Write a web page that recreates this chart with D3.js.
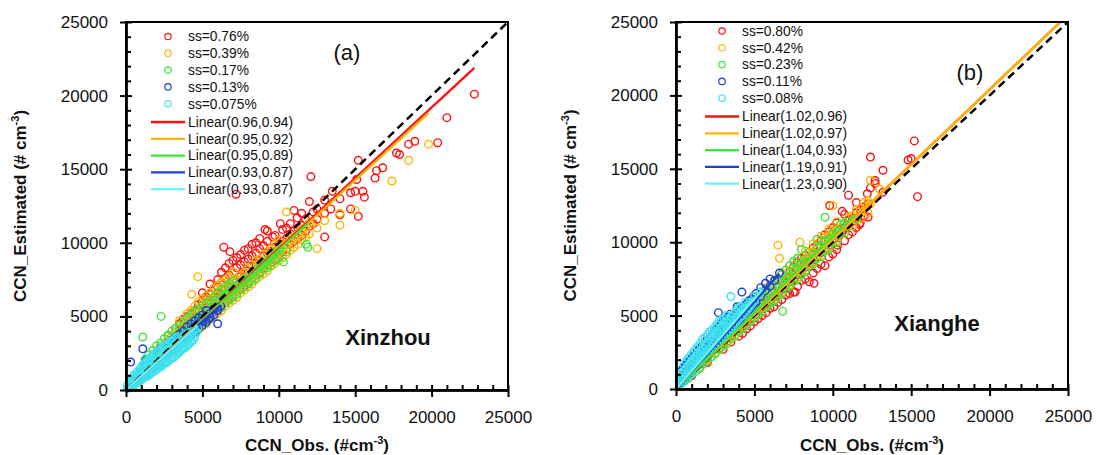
<!DOCTYPE html>
<html lang="en">
<head>
<meta charset="UTF-8">
<title>CCN estimated vs observed</title>
<script src="https://d3js.org/d3.v7.min.js"></script>
<style>
  body { margin: 0; background: #fff; }
  svg text { font-family: "Liberation Sans", Arial, sans-serif; fill: #111; }
</style>
</head>
<body>
<svg id="canvas"></svg>
<script>
let width = 1097
let height = 455

// series names / fits (slope, R2) / fit end points
let namesA = ["ss=0.76%", "ss=0.39%", "ss=0.17%", "ss=0.13%", "ss=0.075%"]
let namesB = ["ss=0.80%", "ss=0.42%", "ss=0.23%", "ss=0.11%", "ss=0.08%"]
let slopesA = [0.96, 0.95, 0.95, 0.93, 0.93]
let r2A = [0.94, 0.92, 0.89, 0.87, 0.87]
let slopesB = [1.02, 1.02, 1.04, 1.19, 1.23]
let r2B = [0.96, 0.97, 0.93, 0.91, 0.90]
let fitMaxA = [22800, 19800, 12000, 6200, 4700]
let fitMaxB = [24500, 24500, 11400, 6600, 5500]
let colors = ["#ff1010", "#ffb400", "#3ce63c", "#1e3ed4", "#3fe3ee"]
let lineColors = ["#ff1010", "#ffb400", "#3ce63c", "#1e3ed4", "#6af2ff"]
let majorTicks = [0, 5000, 10000, 15000, 20000, 25000]

// Xinzhou points [obs, est]
let redA = [[1000,900],[1000,1200],[1500,1300],[1500,1700],[2000,1800],[2000,2300],[2500,2300],[2500,2900],[3000,2700],[3000,3400],
  [3500,3200],[3500,3900],[3500,4500],[4000,3700],[4000,4300],[4000,5000],[4500,4100],[4500,4800],[4500,5400],
  [5000,4600],[5000,5300],[5000,6000],[5000,6600],[5500,5000],[5500,5900],[5500,6500],[5500,7200],
  [6000,5500],[6000,6300],[6000,7000],[6000,7500],[6500,6000],[6500,6800],[6500,7600],[6500,8300],[6400,9700],
  [7000,6400],[7000,7300],[7000,8000],[7000,8800],[6800,9400],[7500,6900],[7500,7700],[7500,8500],[7500,9200],
  [8000,7300],[8000,8100],[8000,8900],[8000,9600],[8500,7800],[8500,8600],[8500,9300],[8500,10000],
  [9000,8300],[9000,9100],[9000,9800],[9100,10900],[9500,8700],[9500,9400],[9600,10400],[10000,9200],[10000,9900],[10100,11300],
  [10500,9600],[10500,10300],[10500,11000],[11000,10100],[11000,10800],[11200,11700],[11000,12200],[11500,10500],[11500,11200],[11500,12000],
  [12000,11100],[12000,12800],[12100,14500],[12500,11600],[12500,12300],[13000,10400],[13000,12000],[13000,12900],[13400,12300],[13500,13500],
  [14000,11900],[14000,13000],[14700,12300],[14700,13400],[15000,13500],[15100,14300],[15200,11800],[15200,15600],[15600,13100],[15500,13500],
  [16300,14400],[16400,14900],[16800,15100],[17700,16100],[17900,16000],[18500,16700],[18900,16900],[20400,16800],[21000,18500],[22800,20100],[7200,13300],
  [2250,2000],[2250,2600],[2750,2500],[2750,3100],[2750,3700],[3250,2900],[3250,3600],[3250,4200],[3750,3400],[3750,4100],[3750,4800],
  [4250,3900],[4250,4500],[4250,5200],[4750,4300],[4750,5000],[4750,5800],[5250,4800],[5250,5600],[5250,6300],[5750,5300],[5750,6100],[5750,6900],
  [6250,5700],[6250,6500],[6250,7300],[6250,8000],[6750,6200],[6750,7000],[6750,7800],[6750,8600],[7250,6700],[7250,7500],[7250,8300],[7250,9000],
  [7750,7100],[7750,7900],[7750,8700],[7750,9500],[8250,7600],[8250,8400],[8250,9100],[8250,9900],[8750,8000],[8750,8800],[8750,9600],[8750,10300],
  [9250,8500],[9250,9300],[9250,10100],[9250,10800],[9750,8900],[9750,9700],[9750,10500],[10250,9400],[10250,10100],[10250,10900],
  [10750,9900],[10750,10600],[10750,11300],[11250,10300],[11250,11000],[11750,10800],[11750,11600],[12250,11300],[12250,12100]]
let orangeA = [[1000,800],[1000,1100],[1500,1300],[1500,1600],[2000,1700],[2000,2200],[2500,2200],[2500,2700],[2500,3100],
  [3000,2600],[3000,3100],[3000,3700],[3500,3100],[3500,3600],[3500,4200],[3500,4700],[4000,3500],[4000,4000],[4000,4600],[4000,5200],
  [4500,3900],[4500,4500],[4500,5100],[4500,5700],[4300,6500],[4700,7700],[5000,4300],[5000,4900],[5000,5500],[5000,6200],[5500,4800],[5500,5400],[5500,6000],[5500,6600],
  [6000,5200],[6000,5800],[6000,6400],[6000,7100],[6500,5700],[6500,6300],[6500,6900],[6500,7500],[7000,6100],[7000,6700],[7000,7300],[7000,8000],
  [7500,6600],[7500,7200],[7500,7800],[8000,7000],[8000,7600],[8000,8300],[8500,7500],[8500,8100],[8500,8800],[9000,7900],[9000,8500],[9000,9200],
  [9500,8400],[9500,9000],[9500,9600],[10000,8800],[10000,9500],[10000,10200],[10500,9200],[10500,9900],[10500,12100],[11000,9700],[11000,10400],
  [11500,10200],[11500,10900],[12000,10600],[12000,11400],[12500,9600],[12500,11000],[13000,11500],[14000,11200],[14000,12000],[15000,12200],
  [17400,14200],[18500,15600],[19800,16700],
  [1250,1000],[1250,1300],[1750,1400],[1750,1900],[2250,1900],[2250,2400],[2250,2900],[2750,2300],[2750,2900],[2750,3400],
  [3250,2800],[3250,3300],[3250,3900],[3750,3200],[3750,3800],[3750,4400],[4250,3700],[4250,4200],[4250,4800],[4250,5400],
  [4750,4100],[4750,4700],[4750,5300],[4750,6000],[5250,4500],[5250,5100],[5250,5800],[5250,6400],[5750,5000],[5750,5600],[5750,6200],[5750,6900],
  [6250,5400],[6250,6000],[6250,6700],[6250,7300],[6750,5900],[6750,6500],[6750,7100],[6750,7700],[7250,6300],[7250,6900],[7250,7500],
  [7750,6800],[7750,7400],[7750,8000],[8250,7200],[8250,7800],[8250,8500],[8750,7700],[8750,8300],[8750,8900],[9250,8100],[9250,8700],[9250,9400],
  [9750,8600],[9750,9200],[9750,9900],[10250,9000],[10250,9700],[10750,9500],[10750,10200],[11250,9900],[11250,10600],[11750,10400],[11750,11100]]
let greenA = [[500,500],[500,800],[1000,900],[1000,1300],[1100,3600],[1500,1300],[1500,1800],[1500,2400],[2000,1800],[2000,2400],[2000,3000],[2300,5000],
  [2500,2200],[2500,2800],[2500,3500],[3000,2700],[3000,3300],[3000,4000],[3500,3100],[3500,3700],[3500,4400],[4000,3600],[4000,4200],[4000,4900],
  [4500,4000],[4500,4600],[4500,5300],[5000,4500],[5000,5000],[5000,5700],[5500,4900],[5500,5500],[5500,6100],[6000,5400],[6000,6000],[6000,6600],
  [6500,5900],[6500,6400],[6500,7000],[7000,6300],[7000,6800],[7000,7400],[7500,6800],[7500,7300],[8000,7200],[8000,7700],[8500,7600],[8500,8200],
  [9000,8200],[9000,8600],[9500,8500],[9500,9100],[10000,9000],[10000,9600],[10300,8700],[10500,9400],[11900,9700],[11800,9900],
  [750,600],[750,1000],[1250,1100],[1250,1600],[1250,2100],[1750,1500],[1750,2100],[1750,2700],[2250,2000],[2250,2600],[2250,3200],
  [2750,2400],[2750,3000],[2750,3700],[3250,2900],[3250,3500],[3250,4200],[3750,3300],[3750,3900],[3750,4600],[4250,3800],[4250,4400],[4250,5100],
  [4750,4200],[4750,4800],[4750,5500],[5250,4700],[5250,5200],[5250,5900],[5750,5100],[5750,5700],[5750,6300],[6250,5600],[6250,6200],[6250,6800],
  [6750,6100],[6750,6600],[6750,7200],[7250,6500],[7250,7100],[7750,7000],[7750,7500],[8250,7400],[8250,7900],[8750,7900],[8750,8400],
  [9250,8300],[9250,8800],[9750,8800],[9750,9300]]
let blueA = [[300,300],[300,600],[300,1900],[700,700],[700,1000],[1100,1000],[1100,1300],[1100,2800],[1500,1300],[1500,1700],[2000,1700],[2000,2100],[2000,2500],
  [2500,2200],[2500,2600],[3000,2600],[3000,3000],[3000,3400],[3500,3000],[3500,3400],[3500,3800],[4000,3500],[4000,3900],[4000,4300],
  [4500,3900],[4500,4300],[4500,4700],[5000,4400],[5000,4700],[5000,5100],[5500,4900],[5500,5200],[6000,5400],[6000,5600],[6200,5700],[5400,4800],[6000,4500],
  [500,400],[500,800],[900,800],[900,1200],[1300,1100],[1300,1500],[1300,2000],[1750,1500],[1750,1900],[1750,2300],[2250,1900],[2250,2300],[2250,2800],
  [2750,2400],[2750,2800],[2750,3200],[3250,2800],[3250,3200],[3250,3600],[3750,3300],[3750,3600],[3750,4000],[4250,3700],[4250,4100],[4250,4500],
  [4750,4200],[4750,4500],[4750,4900],[5250,4600],[5250,5000],[5250,5400],[5750,5100],[5750,5500]]
let cyanA = [[100,100],[100,300],[300,200],[300,400],[300,600],[500,300],[500,500],[500,800],[500,1000],[700,500],[700,700],[700,1000],[700,1200],
  [900,600],[900,900],[900,1200],[900,1400],[1100,800],[1100,1100],[1100,1400],[1100,1700],[1300,900],[1300,1200],[1300,1500],[1300,1900],
  [1500,1000],[1500,1400],[1500,1700],[1500,2100],[1700,1200],[1700,1500],[1700,1900],[1700,2300],[1900,1300],[1900,1700],[1900,2100],[1900,2500],
  [2100,1500],[2100,1800],[2100,2200],[2100,2600],[2300,1600],[2300,2000],[2300,2400],[2300,2800],[2500,1800],[2500,2200],[2500,2600],[2500,3000],
  [2700,1900],[2700,2300],[2700,2700],[2700,3100],[2900,2100],[2900,2500],[2900,2900],[2900,3300],[3100,2200],[3100,2600],[3100,3000],[3100,3400],
  [3300,2400],[3300,2800],[3300,3200],[3300,3600],[3500,2600],[3500,3000],[3500,3400],[3700,2800],[3700,3200],[3700,3600],
  [3900,2900],[3900,3400],[3900,3800],[4100,3100],[4100,3500],[4100,3900],[4300,3300],[4300,3800],[4500,3600],[4500,4100],[4700,4200],
  [200,250],[200,500],[400,300],[400,700],[600,450],[600,850],[800,550],[800,1100],[1000,700],[1000,1250],[1000,1550],[1200,850],[1200,1350],[1200,1800],
  [1400,1000],[1400,1600],[1400,2000],[1600,1100],[1600,1700],[1600,2200],[1800,1250],[1800,1850],[1800,2400],[2000,1400],[2000,2000],[2000,2500],
  [2200,1550],[2200,2150],[2200,2700],[2400,1700],[2400,2300],[2400,2900],[2600,1850],[2600,2500],[2600,3050],[2800,2000],[2800,2650],[2800,3200],
  [3000,2150],[3000,2800],[3000,3350],[3200,2300],[3200,2950],[3200,3500],[3400,2500],[3400,3100],[3600,2700],[3600,3300],[3800,2850],[3800,3500],
  [4000,3000],[4000,3700],[4200,3200],[4200,3800],[4400,3400],[4400,4000],[4600,3900]]

// Xianghe points [obs, est]
let redB = [[1000,900],[1000,1100],[2000,1800],[2000,2100],[3000,2700],[3000,3100],[3500,3200],[3500,3600],[4000,3600],[4000,4100],
  [4500,4100],[4500,4600],[5000,4600],[5000,5100],[5500,5000],[5500,5600],[6000,5500],[6000,6100],[6500,5900],[6500,6600],[6500,7100],
  [7000,6400],[7000,7100],[7000,7700],[7500,6600],[7500,7500],[7500,8300],[8000,7400],[8000,8100],[8000,8900],[8500,7300],[8500,8600],[8500,9300],
  [9000,8200],[9000,9000],[9000,9800],[9500,8400],[9500,9600],[9500,10500],[9800,12500],[10000,9200],[10000,10100],[10000,11000],[10300,9800],
  [10600,10700],[10600,12100],[11000,10500],[11000,11500],[11000,13200],[11500,11000],[11500,12000],[11500,12700],[11700,11200],[12000,11800],[12000,12400],
  [12200,13300],[12400,13700],[12400,15800],[12700,14000],[12700,14200],[13200,13400],[13200,14900],[14800,15600],[15000,15700],[15200,16900],[15400,13100],
  [8800,7200],[7600,6600],
  [4250,3800],[4250,4300],[4750,4300],[4750,4800],[5250,4800],[5250,5300],[5750,5200],[5750,5800],[6250,5600],[6250,6300],
  [6750,6100],[6750,6800],[6750,7400],[7250,6500],[7250,7300],[7250,8000],[7750,7000],[7750,7800],[7750,8600],[8250,7500],[8250,8300],[8250,9100],
  [8750,7900],[8750,8800],[8750,9600],[9250,8500],[9250,9300],[9250,10100],[9750,9000],[9750,9800],[9750,10700],[10250,9500],[10250,10400],[10250,11300],
  [10750,10100],[10750,11000],[10750,11900],[11250,10700],[11250,11600],[11750,11300],[11750,12200],[12250,11700],[12250,12600]]
let orangeB = [[500,500],[500,700],[1000,1000],[1000,1300],[1500,1500],[1500,1800],[2000,2000],[2000,2400],[2500,2500],[2500,2900],
  [3000,3000],[3000,3300],[3500,3500],[3500,3900],[4000,4000],[4000,4400],[4500,4500],[4500,4900],[5000,5100],[5000,5500],
  [5500,5500],[5500,6100],[6000,6000],[6000,6600],[6500,6500],[6500,7100],[6600,8900],[6500,9800],[7000,7000],[7000,7600],
  [7500,7600],[7500,8200],[8000,8100],[8000,8700],[7900,10000],[8500,8500],[8500,9300],[9000,9100],[9000,9700],[9500,9600],[9500,10300],
  [10000,10100],[10000,10800],[10000,12500],[10500,10600],[10500,11200],[11000,11100],[11000,11700],[11500,11500],[11500,12200],
  [12000,12100],[12000,12700],[12400,12600],[12400,14200],[13000,13600],
  [750,700],[750,1000],[1250,1200],[1250,1600],[1750,1700],[1750,2100],[2250,2200],[2250,2600],[2750,2700],[2750,3100],
  [3250,3200],[3250,3600],[3750,3700],[3750,4100],[4250,4200],[4250,4700],[4750,4700],[4750,5200],[5250,5200],[5250,5800],
  [5750,5700],[5750,6300],[5750,6900],[6250,6100],[6250,6800],[6250,7400],[6750,6600],[6750,7300],[6750,7900],[7250,7100],[7250,7800],[7250,8400],
  [7750,7600],[7750,8300],[7750,8900],[8250,8100],[8250,8800],[8250,9400],[8750,8600],[8750,9300],[8750,9900],[9250,9100],[9250,9800],[9250,10400],
  [9750,9600],[9750,10300],[9750,10900],[10250,10100],[10250,10800],[10250,11400],[10750,10600],[10750,11300],[11250,11100],[11250,11800],
  [11750,11600],[11750,12300],[12250,12000],[12250,12800]]
let greenB = [[500,500],[500,800],[1000,1000],[1000,1300],[1500,1400],[1500,1900],[2000,1900],[2000,2400],[2500,2400],[2500,2900],[2500,3700],
  [3000,2900],[3000,3400],[3000,4200],[3500,3400],[3500,3900],[4000,3900],[4000,4400],[4000,4900],[4500,4400],[4500,4900],[4500,5600],
  [5000,4900],[5000,5400],[5000,6100],[5500,5300],[5500,5900],[5500,6500],[6000,5800],[6000,6400],[6000,7000],[6500,6300],[6500,6900],[6500,7500],
  [6800,5300],[7000,6800],[7000,7400],[7000,8100],[7500,7300],[7500,8000],[7500,8700],[8000,7800],[8000,8500],[8000,9500],[8500,8400],[8500,9000],
  [9000,8900],[9000,9600],[9000,10200],[9500,9400],[9500,10100],[9500,11700],[10000,10000],[10000,10600],[10500,10600],[10500,11200],[11000,11200],[11500,11600],
  [750,700],[750,1100],[1250,1200],[1250,1700],[1750,1700],[1750,2200],[1750,2700],[2250,2200],[2250,2700],[2250,3200],[2750,2700],[2750,3200],[2750,3700],
  [3250,3100],[3250,3700],[3250,4300],[3750,3600],[3750,4200],[3750,4800],[4250,4100],[4250,4700],[4250,5300],[4750,4600],[4750,5200],[4750,5800],
  [5250,5100],[5250,5700],[5250,6300],[5750,5600],[5750,6200],[5750,6800],[6250,6000],[6250,6700],[6250,7300],[6750,6500],[6750,7200],[6750,7800],
  [7250,7000],[7250,7700],[7250,8400],[7750,7500],[7750,8200],[7750,8900],[8250,8000],[8250,8700],[8750,8500],[8750,9200],[9250,9000],[9250,9700],
  [9750,9500],[9750,10200],[10250,10000],[10250,10700],[10750,10600],[10750,11300]]
let blueB = [[300,400],[300,700],[300,1200],[600,700],[600,1000],[600,1600],[900,1000],[900,1400],[900,2000],[1200,1400],[1200,1800],[1200,2300],
  [1500,1700],[1500,2200],[1500,2700],[1800,2100],[1800,2500],[1800,3000],[2100,2400],[2100,2900],[2100,3400],[2400,2800],[2400,3200],[2400,3800],
  [2700,3100],[2700,3600],[2700,4200],[2700,5200],[3000,3500],[3000,4000],[3000,4600],[3300,3800],[3300,4300],[3300,4900],[3600,4200],[3600,4700],
  [3900,4500],[3900,5100],[3900,5600],[4200,4900],[4200,5500],[4200,6600],[4500,5300],[4500,5800],[4800,5600],[4800,6100],[5100,5900],[5100,6500],
  [5400,6300],[5400,6900],[5700,6700],[5700,7200],[6000,7000],[6000,7500],[6300,7400],[6600,7900],
  [450,500],[450,900],[450,1400],[750,900],[750,1300],[750,1800],[1050,1200],[1050,1600],[1050,2200],[1350,1600],[1350,2000],[1350,2600],
  [1650,1900],[1650,2400],[1650,2900],[1950,2300],[1950,2700],[1950,3300],[2250,2600],[2250,3100],[2250,3600],[2550,3000],[2550,3400],[2550,4000],
  [2850,3300],[2850,3800],[2850,4400],[3150,3700],[3150,4100],[3150,4700],[3450,4000],[3450,4500],[3450,5100],[3750,4400],[3750,4900],
  [4050,4700],[4050,5300],[4350,5100],[4350,5600],[4650,5400],[4650,6000],[4950,5800],[4950,6300]]
let cyanB = [[200,200],[200,500],[200,900],[500,500],[500,800],[500,1200],[500,1700],[800,900],[800,1200],[800,1600],[800,2100],
  [1100,1200],[1100,1600],[1100,2000],[1100,2500],[1400,1600],[1400,2000],[1400,2400],[1400,2900],[1700,1900],[1700,2300],[1700,2800],[1700,3400],
  [2000,2300],[2000,2700],[2000,3200],[2000,3700],[2300,2700],[2300,3100],[2300,3600],[2300,4000],[2600,3000],[2600,3500],[2600,3900],[2600,4400],
  [2900,3400],[2900,3800],[2900,4200],[2900,4700],[3200,3800],[3200,4200],[3200,4600],[3200,5000],[3500,4100],[3500,4500],[3500,4900],[3500,6300],
  [3800,4500],[3800,4900],[3800,5300],[4100,4900],[4100,5200],[4100,5600],[4400,5200],[4400,5500],[4400,5900],[4700,5600],[4700,5900],
  [5000,6000],[5000,6300],[5400,6600],
  [350,350],[350,700],[350,1100],[650,700],[650,1000],[650,1400],[650,1900],[950,1000],[950,1400],[950,1800],[950,2300],
  [1250,1400],[1250,1800],[1250,2200],[1250,2700],[1550,1800],[1550,2200],[1550,2600],[1550,3100],[1850,2100],[1850,2500],[1850,3000],[1850,3500],
  [2150,2500],[2150,2900],[2150,3400],[2150,3900],[2450,2800],[2450,3300],[2450,3800],[2450,4200],[2750,3200],[2750,3600],[2750,4100],[2750,4600],
  [3050,3600],[3050,4000],[3050,4400],[3050,4800],[3350,3900],[3350,4300],[3350,4700],[3650,4300],[3650,4700],[3650,5100],
  [3950,4700],[3950,5100],[3950,5500],[4250,5000],[4250,5400],[4550,5400],[4550,5700],[4850,5800]]

let svg = d3.select("svg").attr("width", width).attr("height", height)
svg.append("rect").attr("width", width).attr("height", height).attr("fill", "#fff")

let drawPanel = (p) => {
  let xScale = d3.scaleLinear().domain([0, 25000]).range([p.left, p.right])
  let yScale = d3.scaleLinear().domain([0, 25000]).range([p.bottom, p.top])
  let g = svg.append("g")

  let clipId = "clip" + p.key
  svg.append("clipPath").attr("id", clipId)
     .append("rect").attr("x", p.left).attr("y", p.top)
     .attr("width", p.right - p.left).attr("height", p.bottom - p.top)

  // points, first series underneath
  p.series.forEach((pts, i) => {
    g.append("g").selectAll("circle").data(pts).enter().append("circle")
     .attr("cx", d => xScale(d[0]))
     .attr("cy", d => yScale(d[1]))
     .attr("r", 3.8)
     .attr("fill", "none")
     .attr("stroke", colors[i])
     .attr("stroke-width", 1.4)
  })

  // 1:1 line
  g.append("line")
   .attr("x1", xScale(0)).attr("y1", yScale(0))
   .attr("x2", xScale(25000)).attr("y2", yScale(25000))
   .attr("stroke", "#000").attr("stroke-width", 2.5)
   .attr("stroke-dasharray", "8,5")
   .attr("clip-path", "url(#" + clipId + ")")

  // fit lines
  p.slopes.forEach((s, i) => {
    g.append("line")
     .attr("x1", xScale(0)).attr("y1", yScale(0))
     .attr("x2", xScale(p.fitMax[i])).attr("y2", yScale(s * p.fitMax[i]))
     .attr("stroke", lineColors[i]).attr("stroke-width", 2.3)
     .attr("clip-path", "url(#" + clipId + ")")
  })

  // frame
  g.append("rect").attr("x", p.left).attr("y", p.top)
   .attr("width", p.right - p.left).attr("height", p.bottom - p.top)
   .attr("fill", "none").attr("stroke", "#000").attr("stroke-width", 2)

  let minor = d3.range(1000, 25000, 1000).filter(v => v % 5000 != 0)
  let fmt = d3.format("d")

  // x axis
  let xAxis = d3.axisBottom(xScale).tickValues(majorTicks).tickFormat(fmt).tickSize(7).tickSizeOuter(0).tickPadding(14)
  let gx = g.append("g").attr("transform", "translate(0," + p.bottom + ")").call(xAxis)
  gx.append("g").call(d3.axisBottom(xScale).tickValues(majorTicks).tickSize(-5).tickSizeOuter(0).tickFormat(""))
  gx.append("g").call(d3.axisBottom(xScale).tickValues(minor).tickSize(-5).tickSizeOuter(0).tickFormat(""))

  // y axis
  let yAxis = d3.axisLeft(yScale).tickValues(majorTicks).tickFormat(fmt).tickSize(6).tickSizeOuter(0).tickPadding(12)
  let gy = g.append("g").attr("transform", "translate(" + p.left + ",0)").call(yAxis)
  gy.append("g").call(d3.axisLeft(yScale).tickValues(majorTicks).tickSize(-6).tickSizeOuter(0).tickFormat(""))
  gy.append("g").call(d3.axisLeft(yScale).tickValues(minor).tickSize(-5).tickSizeOuter(0).tickFormat(""))

  g.selectAll(".domain").attr("stroke", "#000").attr("stroke-width", 2)
  g.selectAll(".tick line").attr("stroke", "#000").attr("stroke-width", 2)
  g.selectAll(".tick text").attr("font-size", 17).attr("font-family", "Liberation Sans, Arial").attr("fill", "#111")

  // axis titles
  let xt = g.append("text")
   .attr("x", (p.left + p.right) / 2).attr("y", 451)
   .attr("text-anchor", "middle").attr("font-size", 17).attr("font-weight", "bold")
  xt.append("tspan").text("CCN_Obs. (#cm")
  xt.append("tspan").text("-3").attr("font-size", 11).attr("dy", -7)
  xt.append("tspan").text(")").attr("dy", 7)

  let yt = g.append("text")
   .attr("transform", "translate(" + (p.left - 100) + "," + ((p.top + p.bottom) / 2) + ") rotate(-90)")
   .attr("text-anchor", "middle").attr("font-size", 17).attr("font-weight", "bold")
  yt.append("tspan").text("CCN_Estimated (# cm")
  yt.append("tspan").text("-3").attr("font-size", 11).attr("dy", -7)
  yt.append("tspan").text(")").attr("dy", 7)

  // legend
  p.names.forEach((n, i) => {
    let y = p.legY + i * 16.8
    g.append("circle").attr("cx", p.legX + 17).attr("cy", y).attr("r", 3.2)
     .attr("fill", "none").attr("stroke", colors[i]).attr("stroke-width", 1.2)
    g.append("text").attr("x", p.legX + 37).attr("y", y).attr("dy", "0.35em")
     .attr("font-size", 13.8).text(n)
  })
  p.slopes.forEach((s, i) => {
    let y = p.legY + 85.5 + i * 16.8
    g.append("line").attr("x1", p.legX).attr("x2", p.legX + 34).attr("y1", y).attr("y2", y)
     .attr("stroke", lineColors[i]).attr("stroke-width", 2.3)
    g.append("text").attr("x", p.legX + 37).attr("y", y).attr("dy", "0.35em")
     .attr("font-size", 13.8).text("Linear(" + s.toFixed(2) + "," + p.r2[i].toFixed(2) + ")")
  })

  g.append("text").attr("x", p.tagX).attr("y", p.tagY).attr("text-anchor", "middle")
   .attr("font-size", 22).text(p.tag)
  g.append("text").attr("x", p.siteX).attr("y", p.siteY).attr("text-anchor", "middle")
   .attr("font-size", 22).attr("font-weight", "bold").text(p.site)
}

drawPanel({
  key: "A", tag: "(a)", site: "Xinzhou",
  left: 126, right: 508, top: 22, bottom: 390,
  series: [redA, orangeA, greenA, blueA, cyanA],
  names: namesA, slopes: slopesA, r2: r2A, fitMax: fitMaxA,
  legX: 151, legY: 36.5, tagX: 347, tagY: 60, siteX: 388, siteY: 345
})
drawPanel({
  key: "B", tag: "(b)", site: "Xianghe",
  left: 676, right: 1068, top: 22, bottom: 389,
  series: [redB, orangeB, greenB, blueB, cyanB],
  names: namesB, slopes: slopesB, r2: r2B, fitMax: fitMaxB,
  legX: 705, legY: 31, tagX: 970, tagY: 80, siteX: 937, siteY: 331
})
</script>
</body>
</html>
